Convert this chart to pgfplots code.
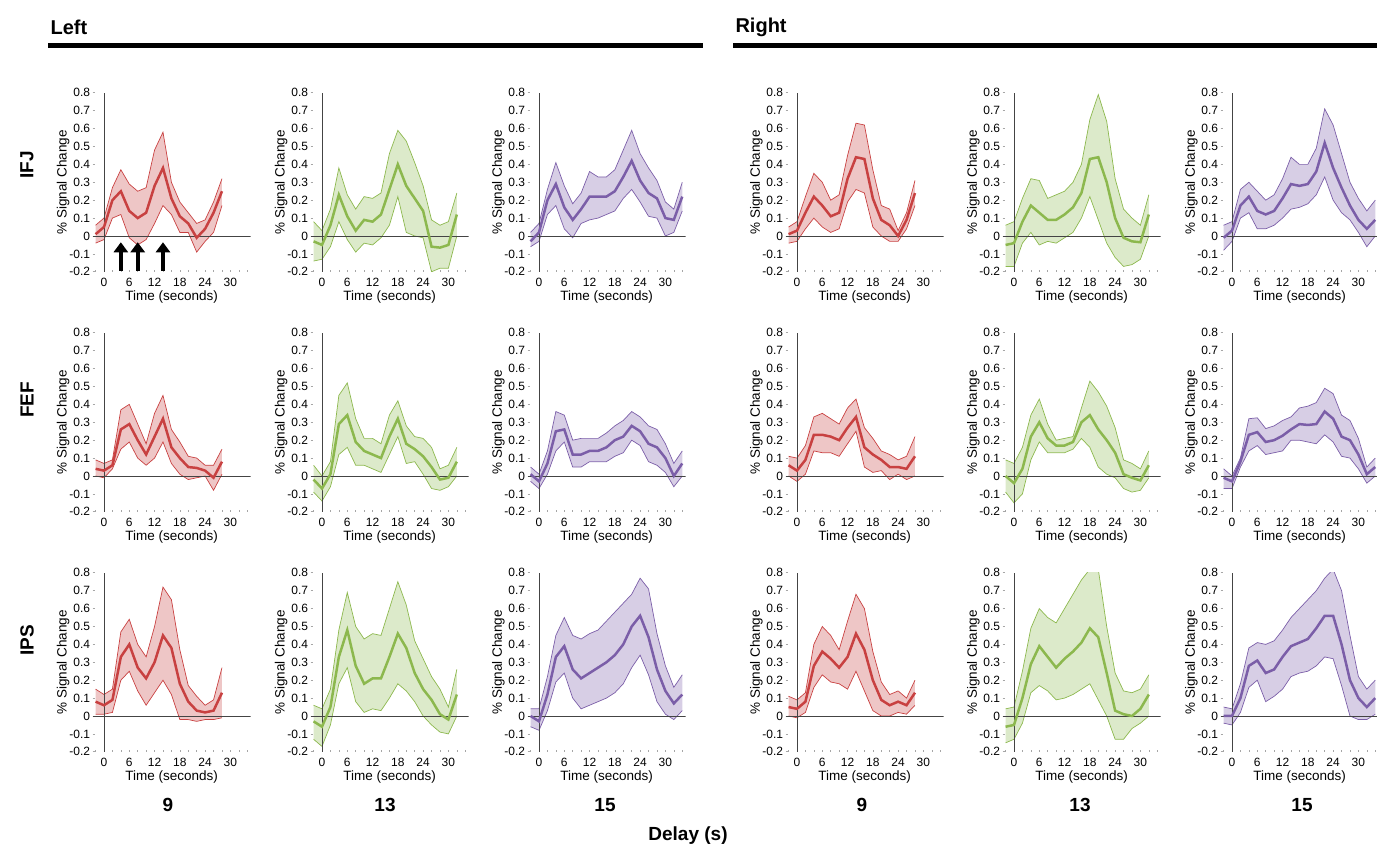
\documentclass[border=0pt]{standalone}
\usepackage{fontspec}
\setmainfont{Liberation Sans}
\usepackage{pgfplots}
\pgfplotsset{compat=1.18}
\usepackage{pgfplotstable}
\usepgfplotslibrary{fillbetween}
\usetikzlibrary{arrows.meta}

\definecolor{redline}{HTML}{C84141}
\definecolor{greenline}{HTML}{8CB84E}
\definecolor{purpleline}{HTML}{7B5EA8}
\definecolor{zerocol}{HTML}{444444}

% ---------------- IFJ ----------------
\pgfplotstableread{
t m l u
-2 0.01 -0.04 0.06
0 0.05 -0.02 0.10
2 0.20 0.10 0.27
4 0.25 0.12 0.37
6 0.14 -0.01 0.29
8 0.10 -0.05 0.25
10 0.13 -0.02 0.27
12 0.28 0.07 0.48
14 0.38 0.17 0.58
16 0.21 0.12 0.30
18 0.11 0.02 0.19
20 0.07 0.02 0.13
22 -0.01 -0.09 0.07
24 0.04 -0.03 0.09
26 0.13 0.02 0.19
28 0.25 0.17 0.32
}\LIFJa
\pgfplotstableread{
t m l u
-2 -0.03 -0.14 0.08
0 -0.05 -0.13 0.03
2 0.06 -0.06 0.15
4 0.23 0.08 0.38
6 0.11 -0.02 0.23
8 0.03 -0.09 0.15
10 0.09 -0.04 0.22
12 0.08 -0.05 0.21
14 0.12 -0.01 0.24
16 0.26 0.06 0.46
18 0.40 0.22 0.59
20 0.28 0.02 0.53
22 0.21 0.00 0.41
24 0.14 -0.01 0.28
26 -0.06 -0.20 0.09
28 -0.065 -0.18 0.06
30 -0.05 -0.18 0.08
32 0.12 0.00 0.24
}\LIFJb
\pgfplotstableread{
t m l u
-2 -0.03 -0.06 0.02
0 0.02 -0.03 0.07
2 0.20 0.12 0.26
4 0.29 0.17 0.41
6 0.16 0.04 0.28
8 0.09 -0.01 0.18
10 0.15 0.07 0.24
12 0.22 0.09 0.36
14 0.22 0.10 0.33
16 0.22 0.12 0.33
18 0.25 0.14 0.37
20 0.33 0.21 0.48
22 0.42 0.26 0.59
24 0.31 0.19 0.46
26 0.24 0.11 0.38
28 0.21 0.10 0.31
30 0.10 0.00 0.19
32 0.09 0.02 0.15
34 0.22 0.14 0.30
}\LIFJc
\pgfplotstableread{
t m l u
-2 0.01 -0.04 0.05
0 0.03 -0.03 0.08
2 0.13 0.04 0.22
4 0.22 0.10 0.35
6 0.17 0.05 0.30
8 0.11 0.02 0.20
10 0.13 0.04 0.23
12 0.32 0.19 0.45
14 0.44 0.26 0.63
16 0.43 0.24 0.62
18 0.21 0.05 0.37
20 0.09 0.00 0.17
22 0.06 -0.03 0.15
24 0.00 -0.03 0.03
26 0.09 0.04 0.13
28 0.24 0.17 0.31
}\RIFJa
\pgfplotstableread{
t m l u
-2 -0.05 -0.17 0.06
0 -0.04 -0.17 0.08
2 0.08 -0.04 0.21
4 0.17 0.02 0.32
6 0.13 -0.05 0.31
8 0.09 -0.03 0.21
10 0.09 -0.04 0.23
12 0.12 -0.01 0.25
14 0.16 0.02 0.30
16 0.24 0.10 0.40
18 0.43 0.22 0.65
20 0.44 0.09 0.79
22 0.30 -0.04 0.64
24 0.10 -0.12 0.32
26 -0.01 -0.17 0.15
28 -0.03 -0.16 0.10
30 -0.035 -0.13 0.06
32 0.12 0.00 0.23
}\RIFJb
\pgfplotstableread{
t m l u
-2 -0.01 -0.08 0.06
0 0.03 -0.03 0.08
2 0.17 0.10 0.26
4 0.22 0.13 0.30
6 0.14 0.04 0.25
8 0.12 0.04 0.20
10 0.14 0.06 0.23
12 0.21 0.10 0.32
14 0.29 0.15 0.44
16 0.28 0.16 0.40
18 0.29 0.18 0.40
20 0.36 0.23 0.49
22 0.52 0.33 0.71
24 0.38 0.20 0.62
26 0.27 0.13 0.46
28 0.17 0.09 0.30
30 0.09 0.02 0.21
32 0.04 -0.06 0.14
34 0.09 0.00 0.20
}\RIFJc
% ---------------- FEF ----------------
\pgfplotstableread{
t m l u
-2 0.04 0.00 0.09
0 0.03 -0.01 0.07
2 0.06 0.04 0.09
4 0.26 0.15 0.37
6 0.29 0.19 0.40
8 0.20 0.10 0.29
10 0.12 0.06 0.18
12 0.22 0.10 0.35
14 0.32 0.19 0.45
16 0.16 0.07 0.26
18 0.10 0.01 0.19
20 0.05 -0.02 0.11
22 0.045 -0.01 0.10
24 0.03 0.00 0.06
26 -0.01 -0.08 0.06
28 0.08 0.01 0.15
}\LFEFa
\pgfplotstableread{
t m l u
-2 -0.02 -0.09 0.06
0 -0.07 -0.14 0.00
2 0.01 -0.06 0.08
4 0.29 0.12 0.45
6 0.34 0.16 0.52
8 0.19 0.06 0.32
10 0.14 0.06 0.21
12 0.12 0.04 0.21
14 0.10 0.02 0.18
16 0.22 0.12 0.34
18 0.32 0.22 0.42
20 0.18 0.07 0.28
22 0.15 0.08 0.22
24 0.11 0.01 0.21
26 0.05 -0.07 0.16
28 -0.02 -0.08 0.04
30 -0.01 -0.06 0.06
32 0.08 0.00 0.16
}\LFEFb
\pgfplotstableread{
t m l u
-2 0.01 -0.03 0.05
0 -0.03 -0.07 0.01
2 0.07 0.01 0.14
4 0.25 0.14 0.36
6 0.26 0.19 0.34
8 0.12 0.05 0.20
10 0.12 0.05 0.21
12 0.14 0.08 0.21
14 0.14 0.08 0.21
16 0.16 0.08 0.24
18 0.20 0.11 0.28
20 0.22 0.13 0.31
22 0.28 0.20 0.36
24 0.25 0.17 0.33
26 0.18 0.08 0.28
28 0.16 0.06 0.26
30 0.10 0.02 0.18
32 0.00 -0.06 0.07
34 0.07 0.00 0.14
}\LFEFc
\pgfplotstableread{
t m l u
-2 0.06 0.00 0.11
0 0.03 -0.03 0.10
2 0.09 0.01 0.17
4 0.23 0.14 0.33
6 0.23 0.13 0.35
8 0.22 0.13 0.32
10 0.20 0.11 0.29
12 0.27 0.18 0.38
14 0.33 0.25 0.43
16 0.16 0.05 0.27
18 0.12 0.02 0.21
20 0.09 0.03 0.14
22 0.05 -0.02 0.12
24 0.05 0.01 0.09
26 0.04 -0.02 0.11
28 0.11 0.00 0.22
}\RFEFa
\pgfplotstableread{
t m l u
-2 0.00 -0.09 0.09
0 -0.04 -0.15 0.07
2 0.04 -0.10 0.16
4 0.22 0.09 0.34
6 0.30 0.19 0.43
8 0.21 0.13 0.29
10 0.17 0.13 0.20
12 0.17 0.13 0.21
14 0.19 0.15 0.22
16 0.30 0.21 0.38
18 0.34 0.16 0.53
20 0.26 0.05 0.47
22 0.20 0.01 0.39
24 0.13 -0.01 0.27
26 0.01 -0.07 0.09
28 -0.01 -0.09 0.07
30 -0.025 -0.08 0.04
32 0.06 -0.01 0.14
}\RFEFb
\pgfplotstableread{
t m l u
-2 -0.01 -0.07 0.04
0 -0.03 -0.07 0.00
2 0.08 0.05 0.10
4 0.23 0.14 0.32
6 0.245 0.17 0.325
8 0.19 0.12 0.265
10 0.20 0.13 0.28
12 0.225 0.14 0.31
14 0.26 0.20 0.33
16 0.29 0.20 0.38
18 0.285 0.19 0.39
20 0.29 0.18 0.41
22 0.36 0.23 0.49
24 0.32 0.19 0.46
26 0.22 0.11 0.34
28 0.20 0.10 0.31
30 0.12 0.04 0.21
32 0.01 -0.04 0.05
34 0.05 0.00 0.10
}\RFEFc
% ---------------- IPS ----------------
\pgfplotstableread{
t m l u
-2 0.08 0.01 0.15
0 0.06 0.01 0.12
2 0.09 0.02 0.15
4 0.33 0.20 0.47
6 0.40 0.25 0.54
8 0.27 0.14 0.40
10 0.21 0.06 0.33
12 0.30 0.13 0.50
14 0.45 0.20 0.72
16 0.38 0.12 0.65
18 0.18 -0.02 0.37
20 0.08 -0.02 0.17
22 0.03 -0.03 0.11
24 0.02 -0.02 0.06
26 0.03 -0.02 0.09
28 0.13 -0.01 0.27
}\LIPSa
\pgfplotstableread{
t m l u
-2 -0.03 -0.13 0.06
0 -0.06 -0.17 0.04
2 0.05 -0.05 0.15
4 0.33 0.18 0.48
6 0.48 0.27 0.69
8 0.28 0.08 0.50
10 0.18 0.02 0.43
12 0.21 0.04 0.46
14 0.21 0.03 0.45
16 0.33 0.10 0.60
18 0.46 0.18 0.75
20 0.38 0.14 0.62
22 0.24 0.08 0.42
24 0.15 0.00 0.32
26 0.09 -0.05 0.22
28 0.01 -0.09 0.15
30 -0.02 -0.10 0.05
32 0.12 0.00 0.26
}\LIPSb
\pgfplotstableread{
t m l u
-2 0.00 -0.06 0.04
0 -0.03 -0.08 0.04
2 0.12 0.03 0.22
4 0.33 0.19 0.45
6 0.39 0.24 0.55
8 0.26 0.10 0.45
10 0.21 0.04 0.43
12 0.24 0.06 0.46
14 0.27 0.08 0.48
16 0.30 0.10 0.53
18 0.34 0.13 0.58
20 0.40 0.18 0.63
22 0.50 0.27 0.68
24 0.56 0.34 0.77
26 0.44 0.23 0.71
28 0.26 0.08 0.46
30 0.14 0.01 0.28
32 0.07 -0.02 0.16
34 0.12 0.03 0.23
}\LIPSc
\pgfplotstableread{
t m l u
-2 0.05 0.00 0.11
0 0.04 -0.01 0.09
2 0.08 0.02 0.13
4 0.28 0.16 0.40
6 0.36 0.23 0.50
8 0.32 0.19 0.45
10 0.27 0.18 0.37
12 0.33 0.15 0.53
14 0.46 0.25 0.68
16 0.37 0.14 0.60
18 0.20 0.03 0.36
20 0.09 0.00 0.19
22 0.06 0.00 0.12
24 0.08 0.02 0.14
26 0.06 0.01 0.10
28 0.13 0.06 0.20
}\RIPSa
\pgfplotstableread{
t m l u
-2 -0.06 -0.15 0.04
0 -0.05 -0.13 0.05
2 0.10 -0.04 0.25
4 0.29 0.13 0.49
6 0.39 0.17 0.60
8 0.33 0.14 0.55
10 0.27 0.09 0.52
12 0.32 0.10 0.60
14 0.36 0.12 0.68
16 0.41 0.15 0.76
18 0.49 0.18 0.82
20 0.44 0.09 0.82
22 0.24 0.00 0.50
24 0.03 -0.13 0.24
26 0.01 -0.13 0.14
28 0.00 -0.07 0.13
30 0.04 -0.04 0.15
32 0.12 0.00 0.23
}\RIPSb
\pgfplotstableread{
t m l u
-2 0.00 -0.04 0.05
0 0.00 -0.05 0.04
2 0.10 0.02 0.18
4 0.28 0.16 0.38
6 0.31 0.20 0.41
8 0.24 0.08 0.40
10 0.26 0.11 0.42
12 0.33 0.15 0.48
14 0.39 0.22 0.55
16 0.41 0.24 0.60
18 0.43 0.25 0.65
20 0.49 0.28 0.70
22 0.56 0.33 0.77
24 0.56 0.32 0.82
26 0.40 0.17 0.70
28 0.20 0.00 0.45
30 0.10 -0.02 0.22
32 0.05 -0.02 0.15
34 0.10 0.01 0.20
}\RIPSc

\pgfplotsset{
  panel/.style={
    scale only axis, width=158pt, height=179pt,
    xmin=-2.7, xmax=34.8, ymin=-0.2, ymax=0.8,
    axis x line*=bottom, axis y line*=left,
    axis line style={draw=none},
    xtick={0,6,12,18,24,30},
    xticklabels={0,6,12,18,24,30},
    minor xtick={-2,0,...,34},
    ytick={-0.2,-0.1,0,0.1,0.2,0.3,0.4,0.5,0.6,0.7,0.8},
    yticklabels={-0.2,-0.1,0,0.1,0.2,0.3,0.4,0.5,0.6,0.7,0.8},
    tick align=inside,
    major tick length=2pt, minor tick length=2pt,
    tick style={black!35, line width=0.6pt},
    ticklabel style={font=\fontsize{12}{13}\selectfont, text=black},
    xticklabel style={yshift=-3pt},
    yticklabel style={xshift=1pt},
    label style={font=\fontsize{13.5}{15}\selectfont},
    xlabel={Time (seconds)},
    ylabel={\% Signal Change},
    xlabel style={yshift=3pt},
    ylabel style={yshift=-7pt},
    anchor=origin,
  },
}

\newcommand{\panel}[4]{%
\begin{axis}[panel, at={(#1pt,#2pt)}]
  \addplot[name path=u, draw=#4line, line width=0.7pt] table[x=t,y=u]{#3};
  \addplot[name path=l, draw=#4line, line width=0.7pt] table[x=t,y=l]{#3};
  \addplot[fill=#4line, fill opacity=0.3, draw=none] fill between[of=u and l];
  \addplot[zerocol, line width=0.9pt] coordinates {(0,-0.2) (0,0.8)};
  \addplot[zerocol, line width=0.9pt] coordinates {(-2.7,0) (34.8,0)};
  \addplot[#4line, line width=2.5pt] table[x=t,y=m]{#3};
\end{axis}}

\begin{document}
\begin{tikzpicture}[x=1pt,y=1pt]
% Row 1: IFJ
\panel{104}{614}{\LIFJa}{red}
\panel{322}{614}{\LIFJb}{green}
\panel{539}{614}{\LIFJc}{purple}
\panel{797}{614}{\RIFJa}{red}
\panel{1014}{614}{\RIFJb}{green}
\panel{1232}{614}{\RIFJc}{purple}
% Row 2: FEF
\panel{104}{374}{\LFEFa}{red}
\panel{322}{374}{\LFEFb}{green}
\panel{539}{374}{\LFEFc}{purple}
\panel{797}{374}{\RFEFa}{red}
\panel{1014}{374}{\RFEFb}{green}
\panel{1232}{374}{\RFEFc}{purple}
% Row 3: IPS
\panel{104}{134}{\LIPSa}{red}
\panel{322}{134}{\LIPSb}{green}
\panel{539}{134}{\LIPSc}{purple}
\panel{797}{134}{\RIPSa}{red}
\panel{1014}{134}{\RIPSb}{green}
\panel{1232}{134}{\RIPSc}{purple}

% stimulus arrows in the first panel
\begin{axis}[panel, at={(104pt,614pt)}, hide axis]
  \foreach \tt in {4,8,14}{
    \edef\temp{\noexpand\draw[black, line width=4.2pt, -{Triangle[width=14pt,length=10pt]}] (axis cs:\tt,-0.195) -- (axis cs:\tt,-0.035);}
    \temp
  }
\end{axis}

% headers
\node[anchor=west, font=\bfseries\fontsize{20}{24}\selectfont] at (47,823) {Left};
\fill (48,802) rectangle (703,807);
\node[anchor=west, font=\bfseries\fontsize{20}{24}\selectfont] at (732,823) {Right};
\fill (733,802) rectangle (1377,807);

% row labels
\node[rotate=90, font=\bfseries\fontsize{19}{22}\selectfont] at (27,685) {IFJ};
\node[rotate=90, font=\bfseries\fontsize{19}{22}\selectfont] at (27,450) {FEF};
\node[rotate=90, font=\bfseries\fontsize{19}{22}\selectfont] at (27,210) {IPS};

% column labels
\foreach \xx/\lab in {168/9,385/13,605/15,862/9,1080/13,1302/15}{
  \node[font=\bfseries\fontsize{19}{22}\selectfont] at (\xx,45) {\lab};
}
\node[font=\bfseries\fontsize{19}{22}\selectfont] at (688,14) {Delay (s)};

\pgfresetboundingbox
\useasboundingbox (0,0) rectangle (1377,850);
\end{tikzpicture}
\end{document}
